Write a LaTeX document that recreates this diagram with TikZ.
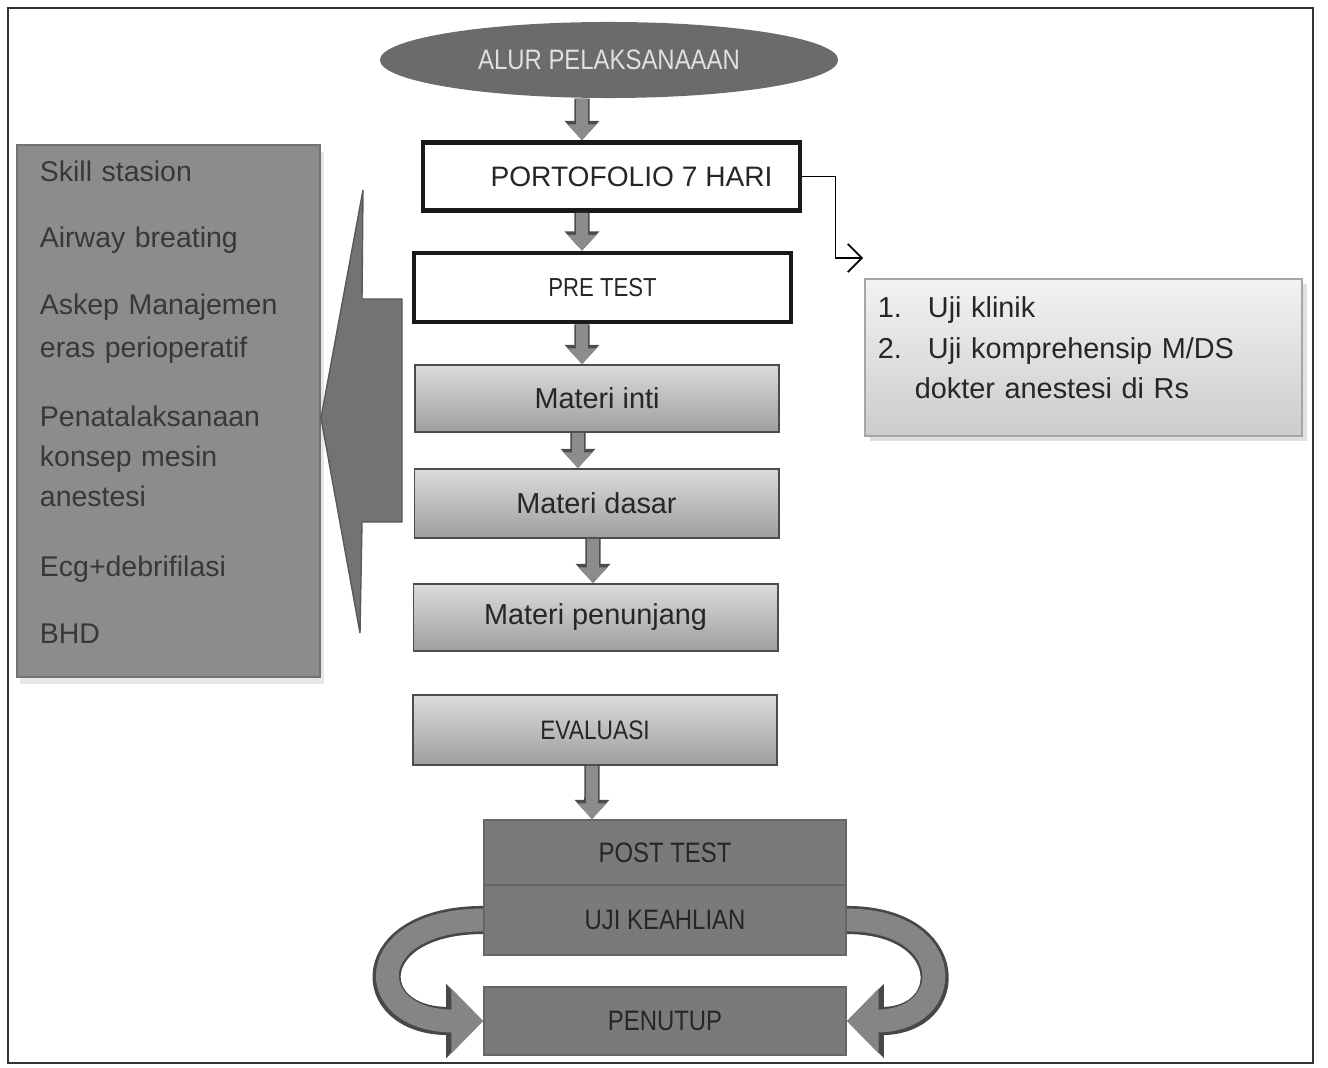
\documentclass[tikz,border=0pt]{standalone}
\usepackage{fontspec}
\setmainfont{Liberation Sans}
\newfontfamily\narrowfont[FakeStretch=0.85]{Liberation Sans}
\usetikzlibrary{arrows.meta,shapes.geometric,shadows}

\begin{document}
\begin{tikzpicture}[x=0.01cm,y=-0.01cm,
    flowbox/.style={draw=black!70, line width=0.5pt, top color=black!14, bottom color=black!38, minimum width=3.64cm, minimum height=0.68cm, inner sep=0pt, text=black!85, font=\fontsize{8.2}{10}\selectfont},
    whitebox/.style={draw=black!90, line width=1.3pt, fill=white, minimum width=3.77cm, minimum height=0.68cm, inner sep=0pt, text=black!85},
    darkbox/.style={draw=black!60, line width=0.5pt, fill=black!52, minimum width=3.62cm, inner sep=0pt, text=black!85, font=\narrowfont\fontsize{8}{10}\selectfont},
    blockarrow/.style={line width=3.4pt, draw=black!45, -{Triangle[length=4.5pt,width=8pt]}, preaction={draw=black!70, line width=4.4pt, -{Triangle[length=5.5pt,width=9.6pt]}}},
    bandarrow/.style={line width=6.5pt, draw=black!48, -{Triangle[length=9pt,width=18pt]}, preaction={draw=black!72, line width=8pt, -{Triangle[length=10.5pt,width=20.5pt]}}}]
    \useasboundingbox (0,0) rectangle (1328,1067);
    \draw[black!80, line width=0.7pt] (8,8) rectangle (1313,1063);

    \node[ellipse, fill=black!58, minimum width=4.58cm, minimum height=0.76cm, text=black!12, font=\narrowfont\fontsize{8}{10}\selectfont] (alur) at (609,60) {ALUR PELAKSANAAAN};
    \node[whitebox, font=\fontsize{8}{10}\selectfont] (porto) at (611.5,176.5) {\hspace*{0.4cm}PORTOFOLIO 7 HARI};
    \node[whitebox, minimum height=0.69cm, font=\narrowfont\fontsize{7.4}{10}\selectfont] (pretest) at (602.5,287.5) {PRE TEST};
    \node[flowbox, minimum height=0.67cm] (inti) at (597,398.5) {Materi inti};
    \node[flowbox, minimum height=0.69cm] (dasar) at (596.5,503.5) {Materi dasar};
    \node[flowbox, minimum height=0.67cm] (penunjang) at (595.5,617.5) {Materi penunjang};
    \node[flowbox, minimum height=0.70cm, font=\narrowfont\fontsize{7.6}{10}\selectfont] (evaluasi) at (595,730) {EVALUASI};
    \node[darkbox, minimum height=0.65cm] (post) at (665,852.5) {POST TEST};
    \node[darkbox, minimum height=0.70cm] (uji) at (665,920) {UJI KEAHLIAN};
    \node[darkbox, minimum height=0.68cm] (penutup) at (665,1021) {PENUTUP};

    \node[draw=black!55, fill=black!45, drop shadow={opacity=0.2, shadow xshift=1pt, shadow yshift=-2pt}, minimum width=3.03cm, minimum height=5.32cm, text width=2.57cm, text depth=4.79cm, inner xsep=0.23cm, align=left, text=black!78, font=\fontsize{8.1}{11.4}\selectfont] (skill) at (168.5,411) {Skill stasion\\[7.4pt]
        Airway breating\\[7.7pt]
        Askep Manajemen\\[0.8pt] eras perioperatif\\[8pt]
        Penatalaksanaan\\ konsep mesin\\ anestesi\\[8.5pt]
        Ecg+debrifilasi\\[7.7pt]
        BHD};
    \fill[black!55, draw=black!65] (402,299) -- (362,299) -- (363,190) -- (321,418) -- (360,633) -- (362,522) -- (402,522) -- cycle;

    \node[draw=black!35, top color=black!5, bottom color=black!20, drop shadow={opacity=0.25, shadow xshift=1.5pt, shadow yshift=-1.5pt}, minimum width=4.37cm, minimum height=1.57cm, text width=4.11cm, text depth=1.0cm, inner xsep=0.13cm, align=left, text=black!85, font=\fontsize{8.2}{11.4}\selectfont] (ujilist) at (1083.5,357.5) {1.\hspace{0.26cm}Uji klinik\\
        2.\hspace{0.26cm}Uji komprehensip M/DS\\
        \hspace*{0.37cm}dokter anestesi di Rs};
    \coordinate (ujiin) at (863,258);

    \draw[blockarrow] ([xshift=-0.27cm]alur.south) -- ([xshift=-0.295cm]porto.north);
    \draw[blockarrow] ([xshift=-0.295cm]porto.south) -- ([xshift=-0.205cm]pretest.north);
    \draw[blockarrow] ([xshift=-0.205cm]pretest.south) -- ([xshift=-0.15cm]inti.north);
    \draw[blockarrow] ([xshift=-0.19cm]inti.south) -- ([xshift=-0.185cm]dasar.north);
    \draw[blockarrow] ([xshift=-0.035cm]dasar.south) -- ([xshift=-0.025cm]penunjang.north);
    \draw[blockarrow] ([xshift=-0.03cm]evaluasi.south) -- ([xshift=-0.73cm]post.north);
    \draw[line width=0.5pt, -{Straight Barb[length=4pt,width=8pt]}] (porto.east) -- ++(33,0) |- (ujiin);

    \draw[bandarrow] (uji.west) to[out=180,in=180,looseness=3.1] (penutup.west);
    \draw[bandarrow] (uji.east) to[out=0,in=0,looseness=2.8] (penutup.east);
\end{tikzpicture}
\end{document}
